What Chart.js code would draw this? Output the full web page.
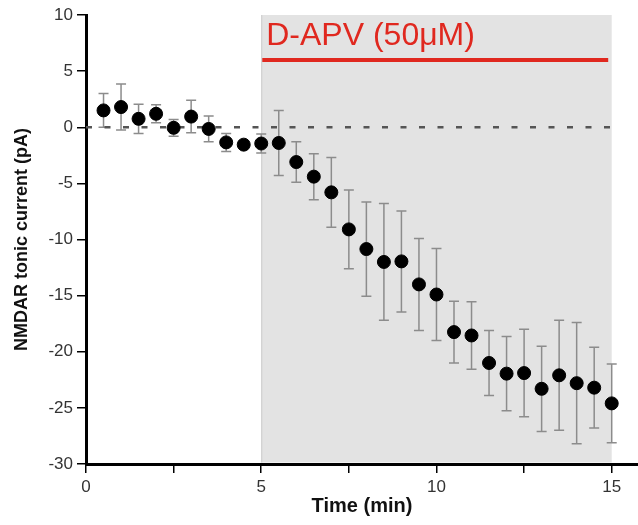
<!DOCTYPE html>
<html>
<head>
<meta charset="utf-8">
<script src="https://cdn.jsdelivr.net/npm/chart.js@4"></script>
<style>
  body { margin: 0; background: #fff; }
  #wrap { width: 638px; height: 525px; }
</style>
</head>
<body>
<div id="wrap"><canvas id="chart" width="638" height="525"></canvas></div>
<script>
const times = [0.5, 1, 1.5, 2, 2.5, 3, 3.5, 4, 4.5, 5, 5.5, 6, 6.5, 7, 7.5, 8, 8.5, 9, 9.5, 10,
               10.5, 11, 11.5, 12, 12.5, 13, 13.5, 14, 14.5, 15];
const current = [1.5, 1.8, 0.75, 1.2, -0.05, 0.95, -0.15, -1.35, -1.55, -1.45, -1.4, -3.1, -4.4, -5.8, -9.1,
                 -10.85, -12.0, -11.95, -14.0, -14.9, -18.25, -18.55, -21.0, -21.95, -21.9, -23.3, -22.1, -22.8, -23.2, -24.6];
const sem = [1.5, 2.05, 1.3, 0.8, 0.75, 1.45, 1.15, 0.8, 0.3, 0.85, 2.9, 1.8, 2.05, 3.1, 3.5,
             4.2, 5.2, 4.5, 4.1, 4.1, 2.75, 3.0, 2.9, 3.3, 3.9, 3.8, 4.9, 5.4, 3.6, 3.5];

const xTicks = [0, 2.5, 5, 7.5, 10, 12.5, 15];
const yTicks = [-30, -25, -20, -15, -10, -5, 0, 5, 10];
const drugStart = 5;
const drugEnd = 15;
const drugLineX = [5.03, 14.9];
const drugLineY = 6;
const drugLabel = 'D-APV (50μM)';
const baselineX = [0, 15];

const FONT = '"Liberation Sans", Arial, sans-serif';

// grey drug window + error bars, under the datasets
const backdrop = {
    id: 'backdrop',
    beforeDatasetsDraw(chart) {
        const { ctx, chartArea, scales: { x, y } } = chart;
        const x0 = x.getPixelForValue(drugStart);
        const x1 = x.getPixelForValue(drugEnd);
        ctx.save();
        ctx.fillStyle = '#e3e3e3';
        ctx.fillRect(x0, chartArea.top, x1 - x0, chartArea.bottom - chartArea.top - 1.5);
        ctx.strokeStyle = '#cccccc';
        ctx.lineWidth = 1;
        ctx.beginPath();
        ctx.moveTo(x0 + 0.5, chartArea.top);
        ctx.lineTo(x0 + 0.5, chartArea.bottom - 1.5);
        ctx.stroke();

        ctx.strokeStyle = '#8c8c8c';
        ctx.lineWidth = 1.5;
        times.forEach((t, i) => {
            const px = x.getPixelForValue(t);
            const top = y.getPixelForValue(current[i] + sem[i]);
            const bot = y.getPixelForValue(current[i] - sem[i]);
            ctx.beginPath();
            ctx.moveTo(px, top);
            ctx.lineTo(px, bot);
            ctx.moveTo(px - 5, top);
            ctx.lineTo(px + 5, top);
            ctx.moveTo(px - 5, bot);
            ctx.lineTo(px + 5, bot);
            ctx.stroke();
        });
        ctx.restore();
    },
    afterDatasetsDraw(chart) {
        const { ctx, scales: { x, y } } = chart;
        ctx.save();
        ctx.fillStyle = '#e0281f';
        ctx.font = '32px ' + FONT;
        ctx.textBaseline = 'alphabetic';
        ctx.fillText(drugLabel, x.getPixelForValue(drugStart) + 5, y.getPixelForValue(drugLineY) - 15);
        ctx.restore();
    }
};

const ctx = document.getElementById('chart').getContext('2d');
new Chart(ctx, {
    type: 'scatter',
    data: {
        datasets: [
            {
                label: 'current',
                data: times.map((t, i) => ({ x: t, y: current[i] })),
                backgroundColor: '#000',
                borderColor: '#000',
                pointRadius: 6.5,
                pointHoverRadius: 6.5
            },
            {
                label: 'drug',
                type: 'line',
                data: drugLineX.map(v => ({ x: v, y: drugLineY })),
                borderColor: '#e0281f',
                borderWidth: 4,
                pointRadius: 0
            },
            {
                label: 'baseline',
                type: 'line',
                data: baselineX.map(v => ({ x: v, y: 0 })),
                borderColor: '#555',
                borderWidth: 2.5,
                borderDash: [6, 12.5],
                pointRadius: 0
            }
        ]
    },
    options: {
        responsive: false,
        animation: false,
        layout: { autoPadding: false, padding: { top: 15, right: 0, left: 0, bottom: 0 } },
        plugins: { legend: { display: false }, tooltip: { enabled: false } },
        scales: {
            x: {
                type: 'linear',
                min: 0,
                max: 15.75,
                afterBuildTicks: (scale) => { scale.ticks = xTicks.map(v => ({ value: v })); },
                afterFit: (scale) => { scale.height = 61; scale.paddingRight = 0; scale.paddingLeft = 0; },
                border: { color: '#000', width: 3 },
                grid: { drawOnChartArea: false, drawTicks: true, tickLength: 9, tickColor: '#000', lineWidth: 1.5 },
                ticks: {
                    padding: 4,
                    color: '#333',
                    font: { family: FONT, size: 17 },
                    callback: (v) => (v % 5 === 0 ? v : '')
                },
                title: {
                    display: true,
                    text: 'Time (min)',
                    color: '#111',
                    font: { family: FONT, size: 20, weight: 'bold' },
                    padding: { top: 0, bottom: 7 }
                }
            },
            y: {
                min: -30,
                max: 10,
                afterBuildTicks: (scale) => { scale.ticks = yTicks.map(v => ({ value: v })); },
                afterFit: (scale) => { scale.width = 86; },
                border: { color: '#000', width: 3 },
                grid: { drawOnChartArea: false, drawTicks: true, tickLength: 9, tickColor: '#000', lineWidth: 1.5 },
                ticks: {
                    padding: 4,
                    color: '#333',
                    font: { family: FONT, size: 17 }
                },
                title: {
                    display: true,
                    text: 'NMDAR tonic current (pA)',
                    color: '#111',
                    font: { family: FONT, size: 18, weight: 'bold' },
                    padding: { top: 11, bottom: 0 }
                }
            }
        }
    },
    plugins: [backdrop]
});
</script>
</body>
</html>
